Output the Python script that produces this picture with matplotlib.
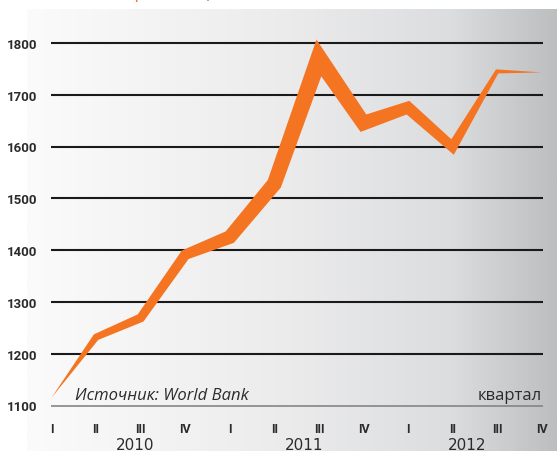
import numpy as np
import matplotlib.pyplot as plt
from matplotlib.colors import LinearSegmentedColormap
from matplotlib.transforms import blended_transform_factory

# Data
quarters = ["I", "II", "III", "IV"] * 3
years = ["2010", "2011", "2012"]
year_pos = [1.87, 5.66, 9.32]
values = [1115, 1232, 1269, 1391, 1425, 1528, 1771, 1645, 1675, 1599, 1745, 1743]
yticks = [1100, 1200, 1300, 1400, 1500, 1600, 1700, 1800]

# ribbon half width at each point, pixels
half_width_px = [0, 3.4, 4.4, 5.2, 6.8, 7.4, 8.4, 7.3, 6.0, 5.0, 2.0, 0]

orange = "#f47421"
dark = "#2b2b2b"

fig = plt.figure(figsize=(5.57, 4.52), dpi=100)

# grey gradient panel behind the chart
bg = fig.add_axes([27 / 557, 0, 530 / 557, 442 / 452])
cmap = LinearSegmentedColormap.from_list(
    "panel", [(0.0, "#fbfbfb"), (0.5, "#ebebec"), (0.8, "#dcdddf"), (1.0, "#bdbec0")])
bg.imshow(np.linspace(0, 1, 256)[None, :], aspect="auto", cmap=cmap, extent=[0, 1, 0, 1])
bg.set_axis_off()

ax = fig.add_axes([51.5 / 557, 45.5 / 452, 490.2 / 557, 362.6 / 452])
ax.patch.set_visible(False)
x = np.arange(len(values))
ax.set_xlim(0, 11)
ax.set_ylim(1100, 1800)
for s in ax.spines.values():
    s.set_visible(False)

# gridlines
ax.hlines(yticks[1:], -0.01, 11.03, color="#1a1a1a", lw=1.5, clip_on=False, zorder=1)
ax.hlines(1100, -0.01, 11.03, color="#858585", lw=1.2, clip_on=False, zorder=1)

# ribbon: offset the line perpendicular in pixel space
pts = ax.transData.transform(np.column_stack([x, values]))
upper, lower = [], []
for i in range(len(pts)):
    normals = []
    if i > 0:
        d = pts[i] - pts[i - 1]
        normals.append(np.array([-d[1], d[0]]) / np.hypot(*d))
    if i < len(pts) - 1:
        d = pts[i + 1] - pts[i]
        normals.append(np.array([-d[1], d[0]]) / np.hypot(*d))
    if len(normals) == 2:
        n1, n2 = normals
        miter = (n1 + n2) / (1 + n1 @ n2)
    else:
        miter = normals[0]
    upper.append(pts[i] + miter * half_width_px[i])
    lower.append(pts[i] - miter * half_width_px[i])
poly = np.vstack([upper, lower[::-1]])
poly = ax.transData.inverted().transform(poly)
ax.fill(poly[:, 0], poly[:, 1], color=orange, lw=0, clip_on=False, zorder=3)

# axis labels
ax.set_yticks(yticks)
ax.set_yticklabels([str(v) for v in yticks], fontsize=9.5, fontweight="bold",
                   color=dark, family="Roboto")
ax.set_xticks(x)
ax.set_xticklabels(quarters, fontsize=9, fontweight="bold", color=dark, family="Roboto")
ax.tick_params(axis="y", length=0, pad=10.5)
ax.tick_params(axis="x", length=0, pad=12)

tr = blended_transform_factory(ax.transData, ax.transAxes)
for pos, yr in zip(year_pos, years):
    ax.text(pos, -0.087, yr, transform=tr, ha="center", va="top", fontsize=11, color=dark)

ax.text(0.53, 1112.5, "Источник: World Bank", fontsize=12, style="italic",
        color=dark, va="baseline", family="Open Sans")
ax.text(11, 1112.5, "квартал", fontsize=12, color=dark, ha="right",
        va="baseline", family="Open Sans")

# subtitle, mostly above the top edge
fig.text(0.23, 1.004, "средняя цена, долл./кв. м", color=orange, fontsize=13,
         style="italic", va="baseline", family="Open Sans")

fig.savefig("out.png", dpi=100)
